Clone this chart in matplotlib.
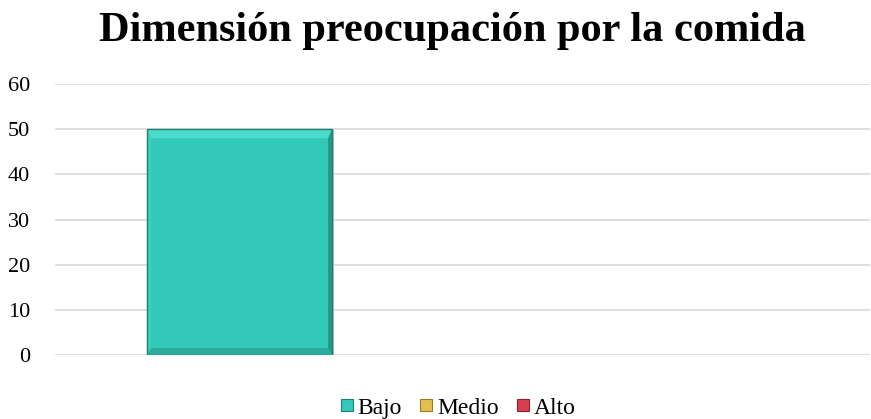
import matplotlib.pyplot as plt
from matplotlib.patches import Polygon, Rectangle
from matplotlib.lines import Line2D

plt.rcParams['font.family'] = ['Liberation Serif', 'DejaVu Serif']

# Niveles de la dimensión y sus frecuencias
niveles = ["Bajo", "Medio", "Alto"]
valores = [50, 0, 0]
colores = ["#33C9B8", "#E5BE4F", "#D9404E"]
oscuros = ["#1E7F74", "#9A7A22", "#8E2230"]
yticks = [0, 10, 20, 30, 40, 50, 60]

fig = plt.figure(figsize=(8.71, 4.19), dpi=100)
ax = fig.add_axes([55 / 871, 1 - 355 / 419, 815 / 871, 271 / 419])

ax.set_xlim(-0.997, 3.408)
ax.set_ylim(0, 60)
ax.set_yticks(yticks)
ax.set_xticks([])
ax.grid(axis='y', color='#D9D9D9', linewidth=1.2)
ax.set_axisbelow(True)
for s in ax.spines.values():
    s.set_visible(False)
ax.tick_params(axis='y', length=0, labelsize=16, pad=18)

fig.canvas.draw()


def bevel_bar(x, h, color, dark, w=1.0, b=7):
    if h <= 0:
        return
    x0, y0 = ax.transData.transform((x - w / 2, 0))
    x1, y1 = ax.transData.transform((x + w / 2, h))
    # sombra gris a la derecha
    ax.add_patch(Rectangle((x0 + 2, y0 - 1), x1 - x0, y1 - y0, transform=None,
                           facecolor='#C4C4C4', edgecolor='none', zorder=2))
    ax.add_patch(Rectangle((x0, y0), x1 - x0, y1 - y0, transform=None,
                           facecolor=color, edgecolor='none', zorder=3))
    outer = [(x0, y0), (x1, y0), (x1, y1), (x0, y1)]
    bx = [b, 4, b + 2, 4]  # grosor: abajo, derecha, arriba, izquierda
    inner = [(x0 + bx[3], y0 + bx[0]), (x1 - bx[1], y0 + bx[0]),
             (x1 - bx[1], y1 - bx[2]), (x0 + bx[3], y1 - bx[2])]
    tonos = ['#2BAD9E', '#27978A', '#4CDCCB', '#3AD2C0']
    for i in range(4):
        j = (i + 1) % 4
        pts = [outer[i], outer[j], inner[j], inner[i]]
        ax.add_patch(Polygon(pts, closed=True, transform=None,
                             facecolor=tonos[i], edgecolor='none', zorder=4))
    ax.add_patch(Rectangle((x0, y0), x1 - x0, y1 - y0, transform=None,
                           facecolor='none', edgecolor=dark, linewidth=1.0, zorder=5))


for i, (v, c, co) in enumerate(zip(valores, colores, oscuros)):
    bevel_bar(i, v, c, co)

fig.text(452 / 871, 1 - 41 / 419, "Dimensión preocupación por la comida",
         fontsize=30.5, fontweight='bold', ha='center', va='baseline')

handles = [Line2D([], [], marker='s', linestyle='none', markersize=9,
                  markerfacecolor=c, markeredgecolor=co, markeredgewidth=0.8)
           for c, co in zip(colores, oscuros)]
fig.legend(handles, niveles, loc='lower center', ncol=3, frameon=False,
           fontsize=17, bbox_to_anchor=(456 / 871, -0.05), handletextpad=0.0,
           columnspacing=0.6, handlelength=0.9)

fig.savefig("out.png", dpi=100)
